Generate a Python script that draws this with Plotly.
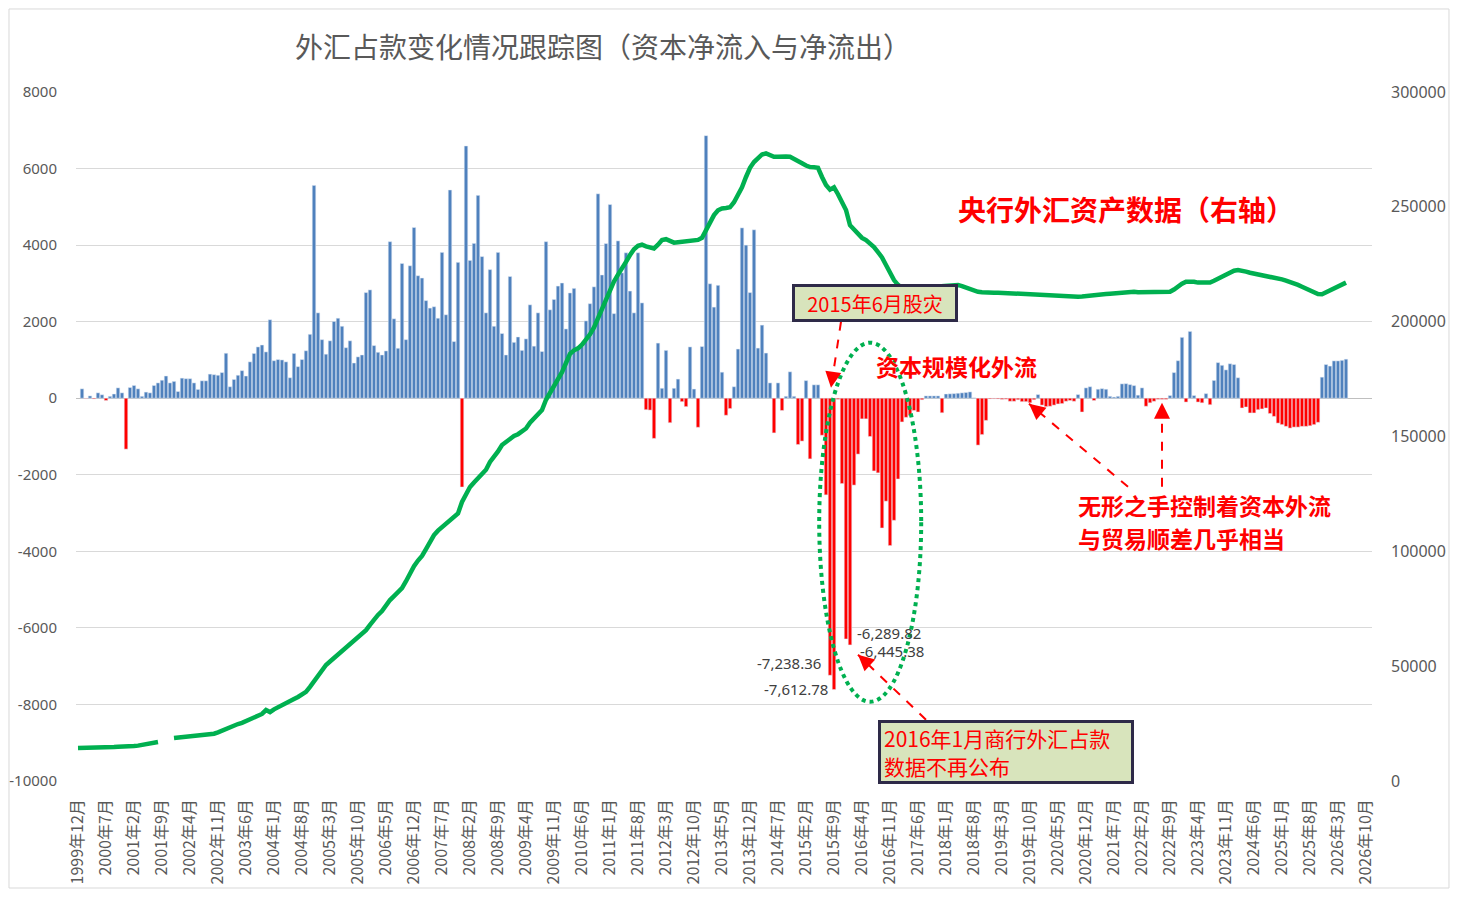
import plotly.graph_objects as go

# --------------------
# Data (亿元), monthly from 1999年12月
# --------------------
# 外汇占款月度变化 (left axis); first month has no change value
flow_2000s = [
    None,
    245, -10, 60, -20, 140, 90, -60, 50, 110, 270, 140, -1330,          # 2000
    280, 333, 245, 50, 160, 140, 333, 400, 470, 580, 400, 440,           # 2001
    175, 525, 510, 510, 400, 230, 455, 455, 630, 615, 600, 670,          # 2002
    1175, 300, 490, 600, 720, 580, 950, 1170, 1340, 1390, 1210, 2050,    # 2003
    980, 1010, 1000, 950, 535, 1170, 825, 1010, 1240, 1670, 5560, 2230,  # 2004
    1530, 1150, 1500, 2005, 2090, 1880, 1320, 1500, 920, 1080, 1130, 2760,  # 2005
    2830, 1375, 1200, 1130, 1235, 4090, 2075, 1305, 3520, 1530, 3460, 4460,  # 2006
    3200, 3140, 2550, 2355, 2390, 2090, 3810, 2180, 5440, 1480, 3550, -2320,  # 2007
    6590, 3600, 4045, 5300, 3700, 2230, 3360, 1880, 3810, 1690, 1130, 3180,  # 2008
    1460, 1600, 1250, 1550, 2440, 1360, 2230, 1220, 4090, 2310, 2580, 2930,  # 2009
]
flow_2010s = [
    3010, 1810, 2750, 2870, 1310, 1350, 2020, 2470, 2910, 5340, 3220, 4040,  # 2010
    5060, 2210, 4110, 3275, 3800, 2800, 2230, 3800, 2490, -300, -310, -1050,  # 2011
    1440, 260, 1250, -640, 260, 500, -90, -220, 1340, 240, -760, 1350,       # 2012
    6860, 2990, 2380, 2950, 680, -445, -270, 300, 1285, 4450, 4000, 2760,    # 2013
    4400, 1310, 1910, 1180, 400, -906, 400, -320, 50, 690, 50, -1210,        # 2014
    -1120, 460, -1585, 350, 350, -967, -2525, -7238.36, -7612.78, -30, -2230, -6289.82,  # 2015
    -6445.38, -2270, -1460, -540, -540, -1000, -1900, -1950, -3390, -2690, -3850, -3190,  # 2016
    -2110, -620, -500, -450, -320, -360, -40, 60, 60, 60, 60, -380,          # 2017
    110, 115, 120, 130, 140, 150, 165, 10, -1225, -950, -580, -20,           # 2018
    -15, -20, -30, -25, -80, -80, -40, -90, -90, -120, -40, 95,              # 2019
]
flow_2020s = [
    -180, -220, -210, -180, -150, -140, -80, -60, -80, 95, -360, 270,        # 2020
    300, -60, 235, 250, 235, 50, 30, 50, 375, 380, 355, 330,                 # 2021
    80, 270, -210, -120, -80, -30, -30, -30, 70, 670, 980, 1590,             # 2022
    -100, 1745, 70, -100, -120, 120, -170, 465, 930, 860, 740, 900,          # 2023
    880, 535, -255, -230, -385, -385, -300, -280, -255, -400, -475, -650,    # 2024
    -690, -735, -780, -755, -755, -735, -735, -720, -690, -630, 550, 880,    # 2025
    840, 975, 975, 990, 1020,                                                # 2026
]

# 央行外汇资产 (right axis)
assets_2000s = [
    14400,
    14400, 14450, 14500, 14500, 14600, 14600, 14700, 14700, 14800, 14900, 14900, 14800,
    15000, 15200, 15400, 15700, 16000, 16300, 16600, 17000, None, None, None, 18700,
    18900, 19100, 19300, 19400, 19500, 19600, 19700, 19900, 20200, 20600, 21200, 22000,
    22600, 23300, 24000, 24800, 25300, 26000, 26800, 27500, 28300, 29200, 30900, 30000,
    31200, 32200, 33100, 33800, 34800, 35700, 36600, 37500, 38800, 41000, 43500, 46000,
    48500, 50500, 52000, 53500, 55500, 56600, 58000, 59500, 61500, 63000, 64000, 65700,
    68000, 70500, 72300, 74000, 76500, 78800, 80500, 82000, 84000, 87000, 90500, 93500,
    96000, 98000, 101000, 104000, 107100, 109000, 110500, 111500, 113000, 115000, 116500, 121500,
    124500, 128000, 130000, 132000, 133700, 135500, 138900, 141000, 143500, 146300, 147800, 149200,
    150200, 151000, 152500, 153500, 156000, 158000, 159500, 161500, 166000, 168800, 172000, 175000,
]
assets_2010s = [
    178000, 182000, 186000, 187500, 188400, 190000, 192000, 194500, 197500, 201500, 206000, 210500,
    214000, 217500, 220500, 223000, 226000, 229000, 231500, 233000, 233500, 232800, 232200, 231900,
    233500, 235500, 235900, 235000, 234400, 234600, 234800, 235000, 235100, 235300, 235600, 236500,
    240000, 243500, 246400, 248500, 249300, 249500, 249800, 252000, 254800, 258500, 263000, 267000,
    269500, 271500, 272800, 273300, 272500, 271800, 271800, 272000, 271900, 271800, 271000, 270000,
    269000, 268000, 267300, 267200, 267000, 263000, 259500, 257500, 258500, 255500, 252000, 248600,
    242000, 240000, 238500, 236500, 235500, 234200, 232500, 230300, 228000, 224700, 221500, 218100,
    216000, 214700, 214200, 213800, 213600, 213800, 214000, 214300, 214500, 214800, 215300, 215500,
    215500, 215700, 216000, 216000, 215500, 214800, 214000, 213500, 213000, 212800, 212600, 212600,
    212600, 212600, 212500, 212400, 212300, 212200, 212100, 212000, 212000, 211900, 211800, 211700,
]
assets_2020s = [
    211600, 211500, 211400, 211300, 211200, 211100, 211000, 210900, 210900, 210900, 211000, 211100,
    211300, 211500, 211600, 211800, 212000, 212200, 212400, 212500, 212600, 212700, 212800, 213000,
    212800, 212800, 212900, 212900, 213000, 213000, 213000, 213000, 213000, 214000, 215500, 216500,
    217400, 217600, 217400, 217000, 217000, 217200, 217000, 217800, 218600, 219500, 220500, 221500,
    222200, 222500, 222300, 221800, 221300, 221000, 220600, 220200, 219800, 219500, 219200, 218900,
    218400, 217900, 217400, 216900, 216000, 215200, 214300, 213500, 212700, 212000, 211900, 212700,
    213700, 214500, 215400, 216200, 217000,
]

# axis ticks
left_ticks = [8000, 6000, 4000, 2000, 0, -2000, -4000, -6000, -8000, -10000]
right_ticks = [300000, 250000, 200000, 150000, 100000, 50000, 0]

# category axis: 1999年12月 .. 2026年11月, labelled every 7 months
months = []
yr, mo = 1999, 12
for _ in range(324):
    months.append(f"{yr}年{mo}月")
    mo += 1
    if mo > 12:
        yr, mo = yr + 1, 1
tick_labels = months[::7]

# bars with printed values
labeled_months = ["2015年8月", "2015年9月", "2015年12月", "2016年1月"]

flow = flow_2000s + flow_2010s + flow_2020s
assets = assets_2000s + assets_2010s + assets_2020s
x_data = months[:len(flow)]

inflow = [v if v is not None and v > 0 else None for v in flow]
outflow = [v if v is not None and v < 0 else None for v in flow]

RED = "#FF0000"
GREEN = "#00B050"
GRAY = "#595959"
CJK = "Noto Sans CJK SC"

# --------------------
# Plot
# --------------------
fig = go.Figure()

fig.add_trace(go.Bar(x=x_data, y=inflow, marker_color="#4F81BD", name="净流入"))
fig.add_trace(go.Bar(x=x_data, y=outflow, marker_color=RED, name="净流出"))
fig.add_trace(go.Scatter(
    x=x_data, y=assets, yaxis="y2", mode="lines",
    line=dict(color=GREEN, width=4.5), connectgaps=False, name="央行外汇资产"
))

# data labels on the four deepest bars
label_pos = {
    "2015年8月": dict(xanchor="right", xshift=-8, yshift=12),
    "2015年9月": dict(xanchor="right", xshift=-5, yshift=1),
    "2015年12月": dict(xanchor="left", xshift=10, yshift=6),
    "2016年1月": dict(xanchor="left", xshift=9, yshift=-6),
}
annotations = []
for m in labeled_months:
    v = flow[months.index(m)]
    annotations.append(dict(
        x=m, y=v, xref="x", yref="y", text=f"{v:,.2f}", showarrow=False,
        font=dict(family="Noto Sans", size=15, color="#404040"),
        yanchor="middle", borderpad=0, **label_pos[m]
    ))

# text notes
annotations += [
    dict(x=262, y=4950, text="<b>央行外汇资产数据（右轴）</b>", showarrow=False,
         font=dict(family=CJK, size=28, color=RED)),
    dict(x=219.5, y=850, text="<b>资本规模化外流</b>", showarrow=False,
         font=dict(family=CJK, size=23, color=RED)),
    dict(x=249.5, y=-2782, xanchor="left", showarrow=False,
         text="<b>无形之手控制着资本外流</b>",
         font=dict(family=CJK, size=23, color=RED)),
    dict(x=249.5, y=-3644, xanchor="left", showarrow=False,
         text="<b>与贸易顺差几乎相当</b>",
         font=dict(family=CJK, size=23, color=RED)),
    dict(x=199.3, y=2480, text="2015年6月股灾", showarrow=False,
         font=dict(family=CJK, size=20, color=RED),
         bgcolor="#D8E4BC", bordercolor="#2E2A48", borderwidth=3, borderpad=4,
         width=152, height=24),
    dict(x=200.0, y=-9235, xanchor="left", align="left", showarrow=False,
         text="2016年1月商行外汇占款<br>数据不再公布",
         font=dict(family=CJK, size=21, color=RED),
         bgcolor="#D8E4BC", bordercolor="#2E2A48", borderwidth=3, borderpad=3,
         width=244, height=52),
]

# dashed red arrows: (start, tip, head offset in px)
arrows = [
    ((190.75, 1998), (188.25, 274), (2, -14)),
    ((212.0, -8399), (195.0, -6701), (10, 9)),
    ((262.5, -2312), (237.75, -144), (11, 9)),
    ((271.0, -2312), (271.0, -118), (0, 14)),
]
shapes = []
for (x0, y0), (x1, y1), (ax, ay) in arrows:
    shapes.append(dict(type="line", xref="x", yref="y", x0=x0, y0=y0, x1=x1, y1=y1,
                       line=dict(color=RED, width=2, dash="dash")))
    annotations.append(dict(x=x1, y=y1, xref="x", yref="y", ax=ax, ay=ay, text="",
                            showarrow=True, arrowhead=2, arrowsize=1.6,
                            arrowwidth=2, arrowcolor=RED))

# dotted ellipse round the outflow wave
shapes.append(dict(type="circle", xref="x", yref="y", x0=185.3, x1=210.8, y0=-7930, y1=1450,
                   line=dict(color=GREEN, width=4, dash="dot")))

# chart border
shapes.append(dict(type="rect", xref="paper", yref="paper", x0=-0.0517, x1=1.0594,
                   y0=-0.1553, y1=1.1205, line=dict(color="#D9D9D9", width=1), layer="below"))

# page body keeps an 8px margin, so the figure is sized to fit inside the window
fig.update_layout(
    width=1442, height=887,
    margin=dict(l=68, r=78, t=84, b=114),
    paper_bgcolor="white", plot_bgcolor="white",
    showlegend=False,
    barmode="overlay", bargap=0.12,
    title=dict(text="外汇占款变化情况跟踪图（资本净流入与净流出）",
               x=(603 - 8) / 1442, y=1 - (48 - 8) / 887, xanchor="center", yanchor="middle",
               font=dict(family=CJK, size=28, color=GRAY)),
    xaxis=dict(
        type="category", categoryorder="array", categoryarray=months,
        range=[-0.5, len(months) - 0.5], automargin=False,
        tickmode="array", tickvals=tick_labels, ticktext=tick_labels,
        tickangle=-90, ticklabelstandoff=14, showgrid=False, showline=False,
        tickfont=dict(family=CJK, size=16, color=GRAY),
    ),
    yaxis=dict(
        range=[-10000, 8000], tickmode="array", automargin=False,
        tickvals=left_ticks, ticktext=[str(t) for t in left_ticks],
        gridcolor="#D9D9D9", gridwidth=1,
        zeroline=True, zerolinecolor="#BFBFBF", zerolinewidth=1,
        ticklabelstandoff=18, showline=False,
        tickfont=dict(family="Noto Sans", size=15, color=GRAY),
    ),
    yaxis2=dict(
        range=[0, 300000], tickmode="array", automargin=False,
        tickvals=right_ticks, ticktext=[str(t) for t in right_ticks],
        overlaying="y", side="right", showgrid=False, zeroline=False,
        ticklabelstandoff=18, showline=False,
        tickfont=dict(family="Noto Sans", size=16, color=GRAY),
    ),
    annotations=annotations,
    shapes=shapes,
)

fig.write_html("out.html")
